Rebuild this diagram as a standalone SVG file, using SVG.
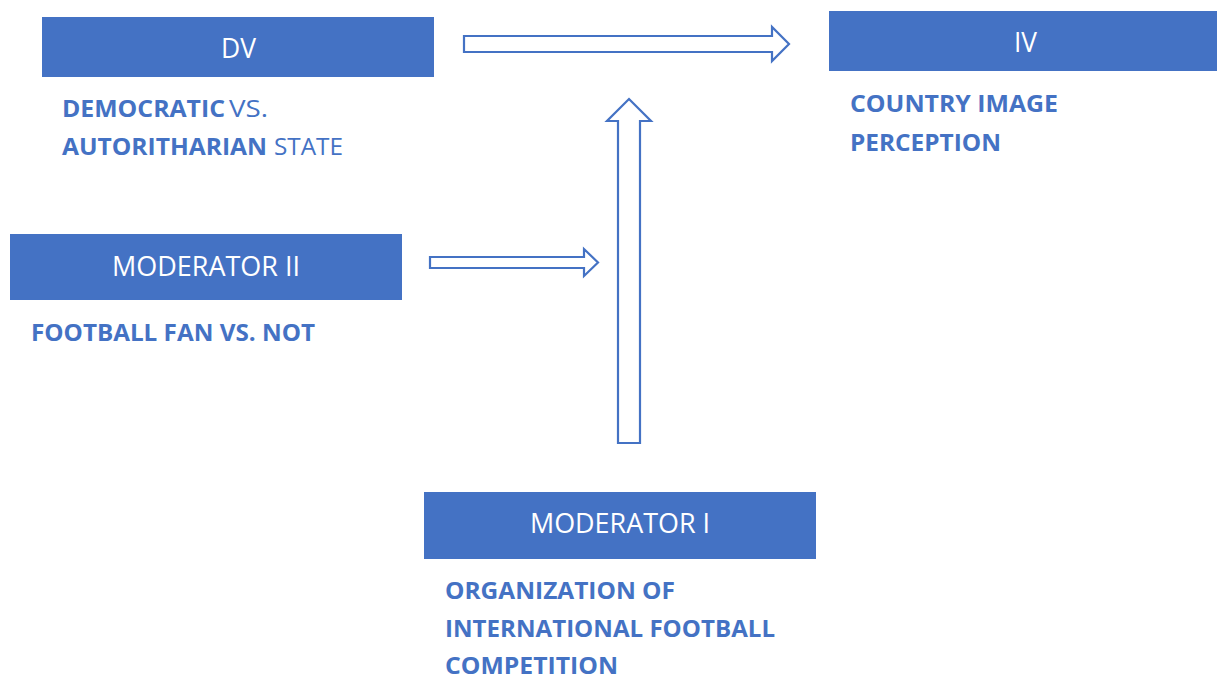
<svg xmlns="http://www.w3.org/2000/svg" width="1217" height="678" viewBox="0 0 1217 678">
<style>
.box{fill:#4472C4}
.bt{font-family:"Open Sans","Liberation Sans",sans-serif;font-weight:400;font-size:28px;fill:#FFFFFF;text-anchor:middle}
.lb{font-family:"Open Sans","Liberation Sans",sans-serif;font-weight:700;font-size:24px;fill:#4472C4}
.ln{font-family:"Open Sans","Liberation Sans",sans-serif;font-weight:400;font-size:24px;fill:#4472C4}
.arr{fill:#FFFFFF;stroke:#4472C4;stroke-width:2.2;stroke-linejoin:miter}
</style>
<rect width="1217" height="678" fill="#FFFFFF"/>
<g id="node-dv">
<rect class="box" x="42" y="17" width="392" height="60"/>
<text class="bt" x="238.5" y="58" textLength="35" lengthAdjust="spacingAndGlyphs">DV</text>
<text class="lb" x="62" y="117" textLength="163" lengthAdjust="spacingAndGlyphs">DEMOCRATIC</text>
<text class="ln" x="229" y="117" textLength="39" lengthAdjust="spacingAndGlyphs">VS.</text>
<text class="lb" x="62" y="155" textLength="205" lengthAdjust="spacingAndGlyphs">AUTORITHARIAN</text>
<text class="ln" x="274" y="155" textLength="69" lengthAdjust="spacingAndGlyphs">STATE</text>
</g>
<g id="node-iv">
<rect class="box" x="829" y="11" width="388" height="60"/>
<text class="bt" x="1025.5" y="52" textLength="23" lengthAdjust="spacingAndGlyphs">IV</text>
<text class="lb" x="850" y="112" textLength="208" lengthAdjust="spacingAndGlyphs">COUNTRY IMAGE</text>
<text class="lb" x="850" y="151" textLength="151" lengthAdjust="spacingAndGlyphs">PERCEPTION</text>
</g>
<g id="node-moderator2">
<rect class="box" x="10" y="234" width="392" height="66"/>
<text class="bt" x="206" y="276" textLength="188" lengthAdjust="spacingAndGlyphs">MODERATOR II</text>
<text class="lb" x="31" y="341" textLength="284" lengthAdjust="spacingAndGlyphs">FOOTBALL FAN VS. NOT</text>
</g>
<g id="node-moderator1">
<rect class="box" x="424" y="492" width="392" height="67"/>
<text class="bt" x="620" y="533" textLength="180" lengthAdjust="spacingAndGlyphs">MODERATOR I</text>
<text class="lb" x="445" y="599" textLength="230" lengthAdjust="spacingAndGlyphs">ORGANIZATION OF</text>
<text class="lb" x="445" y="637" textLength="330" lengthAdjust="spacingAndGlyphs">INTERNATIONAL FOOTBALL</text>
<text class="lb" x="445" y="674" textLength="173" lengthAdjust="spacingAndGlyphs">COMPETITION</text>
</g>
<g id="connectors">
<path class="arr" d="M464,36 L772,36 L772,27 L789,44 L772,61 L772,52 L464,52 Z"/>
<path class="arr" d="M618,443 L618,121 L607,121 L629,99 L651,121 L640,121 L640,443 Z"/>
<path class="arr" d="M430,257 L584,257 L584,249 L598,262.5 L584,276 L584,268 L430,268 Z"/>
</g>
</svg>
